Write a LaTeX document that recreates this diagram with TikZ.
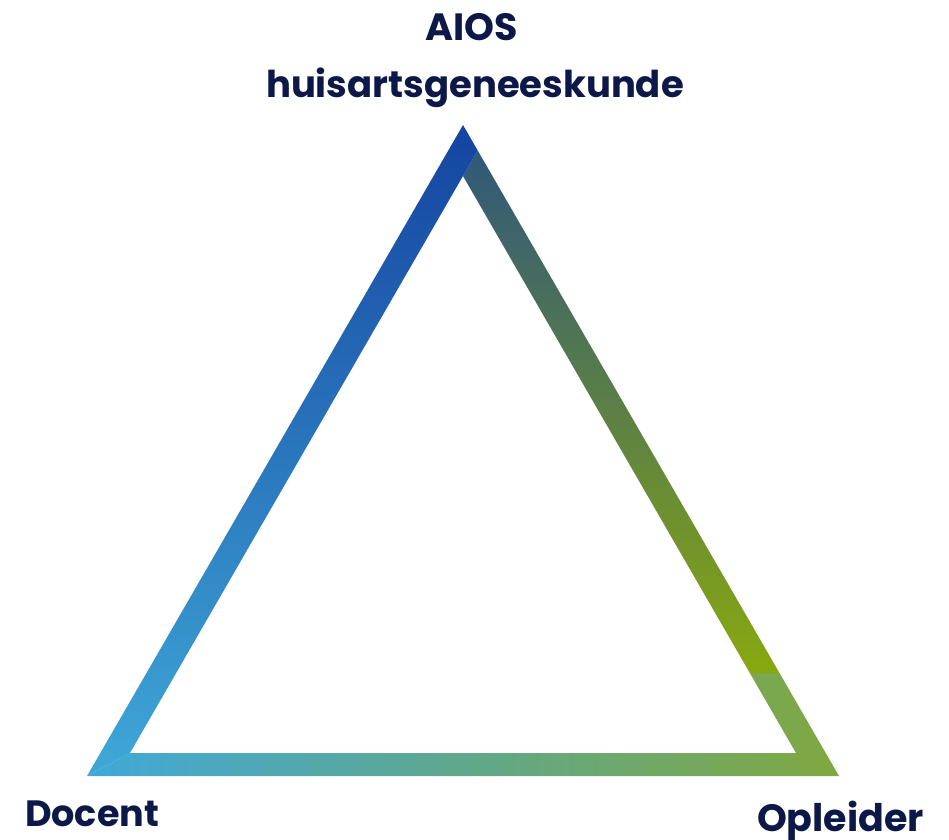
\documentclass[tikz,border=0pt]{standalone}
\usepackage{fontspec}
\setmainfont{Poppins}
\definecolor{navy}{HTML}{0C1848}
\definecolor{Ltop}{HTML}{1444A0}
\definecolor{Lmid}{HTML}{1A78C2}
\definecolor{Lbot}{HTML}{40A8D8}
\definecolor{Rtop}{HTML}{30587A}
\definecolor{Rmid}{HTML}{587A5E}
\definecolor{Rbot}{HTML}{88A810}
\definecolor{Bleft}{HTML}{40A8D8}
\definecolor{Bmid}{HTML}{68B0A0}
\definecolor{Bright}{HTML}{80A840}
\begin{document}
\begin{tikzpicture}[x=1pt,y=-1pt,
  lbl/.style={text=navy,font=\bfseries,inner sep=0pt,outer sep=0pt}]
\useasboundingbox (0,0) rectangle (949,839);
% key points
\coordinate (A) at (463,125);
\coordinate (OBL) at (87,776);
\coordinate (OBR) at (839,776);
\coordinate (I) at (463,176);
\coordinate (IBL) at (130,753);
\coordinate (IBR) at (796,753);
\coordinate (P) at (477.7,150.5);
\coordinate (RO) at (779.5,673);
\coordinate (RI) at (749.8,673);
% right band
\shade[top color=Rtop,middle color=Rmid,bottom color=Rbot] (P) -- (RO) -- (RI) -- (I) -- cycle;
% bottom band (with bottom-right corner)
\shade[left color=Bleft,middle color=Bmid,right color=Bright] (OBL) -- (OBR) -- (RO) -- (RI) -- (IBR) -- (IBL) -- cycle;
% left band (with apex and bottom-left corner)
\shade[top color=Ltop,middle color=Lmid,bottom color=Lbot] (A) -- (P) -- (I) -- (IBL) -- (OBL) -- cycle;
% labels
\node[lbl,anchor=base,font=\bfseries\fontsize{38}{38}\selectfont] (aios) at (472,40) {AIOS};
\node[lbl,anchor=base,font=\bfseries\fontsize{37}{37}\selectfont] (huis) at (475,97) {huisartsgeneeskunde};
\node[lbl,anchor=base west,font=\bfseries\fontsize{36.6}{36.6}\selectfont] (docent) at (25,826) {Docent};
\node[lbl,anchor=base west,font=\bfseries\fontsize{38}{38}\selectfont] (opl) at (757,831) {Opleider};
\end{tikzpicture}
\end{document}
